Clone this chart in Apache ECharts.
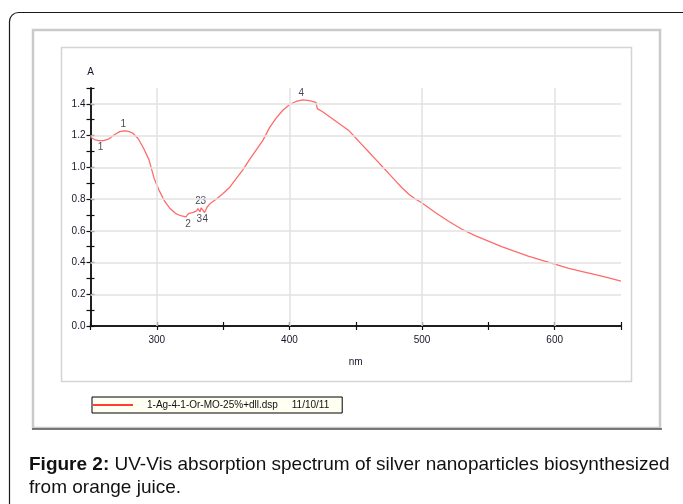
<!DOCTYPE html>
<html><head><meta charset="utf-8">
<script src="https://cdn.jsdelivr.net/npm/echarts@6/dist/echarts.min.js"></script>
<style>html,body{margin:0;padding:0;background:#fff}#c{width:683px;height:504px}</style>
</head><body><div id="c"></div>
<script>
const seriesName = '1-Ag-4-1-Or-MO-25%+dll.dsp     11/10/11';
const wavelengths = [250,253,256,260,264,268,272,275,278,282,286,290,294,298,302,306,310,314,318,322,323.5,324,327,330,331,332.5,333.5,335,336,338,340,345,350,355,360,365,370,375,380,385,390,395,400,405,410,415,420,421,425,430,435,440,445,450,455,460,465,470,475,480,485,490,495,500,510,520,530,540,550,560,570,580,590,600,610,620,630,640,650];
const absorbance = [1.19,1.175,1.168,1.168,1.18,1.205,1.225,1.23,1.228,1.215,1.18,1.12,1.05,0.93,0.85,0.785,0.74,0.71,0.695,0.688,0.686,0.71,0.715,0.725,0.74,0.72,0.745,0.74,0.715,0.75,0.77,0.8,0.835,0.875,0.93,0.985,1.05,1.11,1.17,1.25,1.31,1.36,1.395,1.415,1.425,1.42,1.41,1.37,1.35,1.32,1.29,1.26,1.23,1.185,1.14,1.095,1.05,1.005,0.96,0.915,0.87,0.83,0.8,0.775,0.715,0.66,0.61,0.57,0.535,0.5,0.47,0.44,0.415,0.39,0.365,0.345,0.325,0.305,0.283];
const peakMarks = [[274.8,1.23,'1'],[409,1.425,'4'],[331,0.74,'2'],[335,0.745,'3']];
const valleyMarks = [[257.5,1.168,'1'],[323.5,0.686,'2'],[332,0.72,'3'],[336.5,0.715,'4']];
const yGridValues = [0.2,0.4,0.6,0.8,1.0,1.2,1.4];
const xGridValues = [300,400,500,600];
const captionBold = 'Figure 2:';
const captionLine1 = ' UV-Vis absorption spectrum of silver nanoparticles biosynthesized';
const captionLine2 = 'from orange juice.';

const chart = echarts.init(document.getElementById('c'));
const FONT = 'Liberation Sans, Arial, sans-serif';
const TXT = '#16162a';
const tickLabelStyle = {fontSize: 10, color: TXT, fontFamily: FONT};
function yAxisCfg(inside, showLabel) {
  return {
    type: 'value', position: 'left', min: 0, max: 1.5, interval: 0.1,
    name: showLabel ? 'A' : '', nameLocation: 'end', nameGap: 11,
    nameTextStyle: {fontSize: 10, color: TXT, fontFamily: FONT},
    axisLine: {show: true, lineStyle: {color: '#111', width: 1.5}},
    axisTick: {show: true, inside: inside, length: 4, lineStyle: {color: '#111', width: 1.2}},
    axisLabel: {show: showLabel, margin: 5, ...tickLabelStyle,
      formatter: v => { const t = Math.round(v * 10); return (t % 2 === 0 && t <= 14) ? (t / 10).toFixed(1) : ''; }},
    splitLine: {show: false}
  };
}
function xAxisCfg(inside, showLabel) {
  return {
    type: 'value', position: 'bottom', min: 250, max: 650, interval: 50,
    name: showLabel ? 'nm' : '', nameLocation: 'middle', nameGap: 31,
    nameTextStyle: {fontSize: 10, color: TXT, fontFamily: FONT},
    axisLine: {show: true, onZero: false, lineStyle: {color: '#111', width: 1.5}},
    axisTick: {show: true, inside: inside, length: 4, lineStyle: {color: '#111', width: 1.2}},
    axisLabel: {show: showLabel, margin: 9, ...tickLabelStyle,
      formatter: v => (v % 100 === 0 ? String(v) : '')},
    splitLine: {show: false}
  };
}
const labelStyle = {show: true, fontSize: 10, color: TXT, fontFamily: FONT, formatter: p => p.value[2]};

chart.setOption({
  animation: false,
  grid: {left: 90.5, right: 62, top: 88, bottom: 178},
  xAxis: [xAxisCfg(false, true), xAxisCfg(true, false)],
  yAxis: [yAxisCfg(false, true), yAxisCfg(true, false)],
  legend: {
    data: [seriesName], left: 92, top: 397,
    backgroundColor: '#fffff2', borderColor: '#000', borderWidth: 1, borderRadius: 0,
    padding: [3, 13, 3, 1], itemWidth: 40, itemHeight: 2, icon: 'rect',
    textStyle: {fontSize: 10, color: '#111', fontFamily: FONT, padding: [0, 0, 0, 9]}
  },
  graphic: [
    {type: 'rect', silent: true, z: -10, shape: {x: 9.5, y: 12.5, width: 720, height: 540, r: 9}, style: {fill: 'none', stroke: '#1a1a1a', lineWidth: 1.2}},
    {type: 'rect', silent: true, z: -10, shape: {x: 33, y: 30, width: 627, height: 398}, style: {fill: 'none', stroke: '#cacaca', lineWidth: 2.5}},
    {type: 'line', silent: true, z: -9, shape: {x1: 32, y1: 429, x2: 662, y2: 429}, style: {stroke: '#555', lineWidth: 1.5}},
    {type: 'rect', silent: true, z: -10, shape: {x: 61.5, y: 47.5, width: 570, height: 334}, style: {fill: 'none', stroke: '#d4d4d4', lineWidth: 1.5}},
    {type: 'text', silent: true, left: 29, top: 455, style: {
      text: '{b|' + captionBold + '}' + captionLine1,
      font: '19px ' + FONT, fill: '#111',
      rich: {b: {fontWeight: 'bold', fontSize: 19, fontFamily: FONT, fill: '#111'}}
    }},
    {type: 'text', silent: true, left: 29, top: 478, style: {text: captionLine2, font: '19px ' + FONT, fill: '#111'}}
  ],
  series: [
    {
      name: 'grid', type: 'line', data: [], z: 1, silent: true,
      markLine: {silent: true, symbol: 'none', label: {show: false},
        lineStyle: {color: '#e2e2e2', width: 1.5, type: 'solid'},
        data: [...yGridValues.map(v => ({yAxis: v})), ...xGridValues.map(v => ({xAxis: v}))]}
    },
    {
      name: seriesName, type: 'line', z: 3, symbol: 'none', smooth: false,
      lineStyle: {color: '#ff6b6b', width: 1.3}, itemStyle: {color: '#ff3b3b'},
      data: wavelengths.map((w, i) => [w, absorbance[i]])
    },
    {
      name: 'peaks', type: 'scatter', z: 4, symbolSize: 0, silent: true,
      label: {...labelStyle, position: 'top', distance: 2},
      data: peakMarks
    },
    {
      name: 'valleys', type: 'scatter', z: 4, symbolSize: 0, silent: true,
      label: {...labelStyle, position: 'bottom', distance: 2},
      data: valleyMarks
    }
  ]
});
</script></body></html>
